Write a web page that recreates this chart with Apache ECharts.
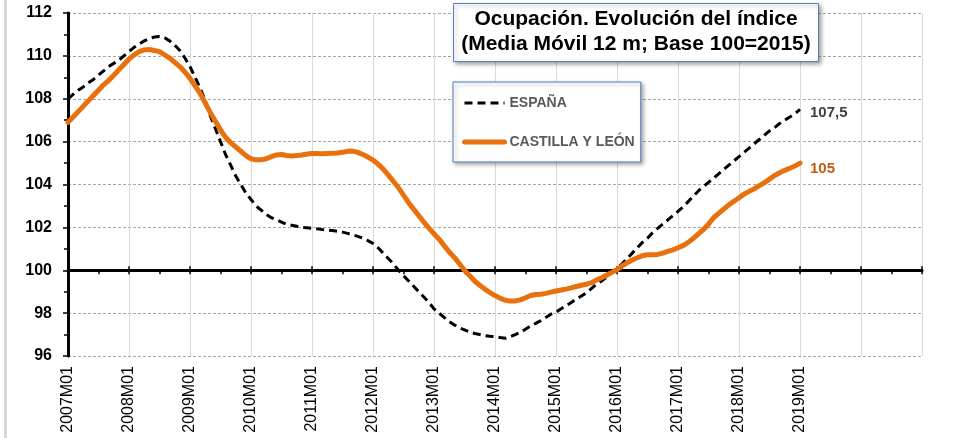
<!DOCTYPE html>
<html><head><meta charset="utf-8">
<script src="https://cdn.jsdelivr.net/npm/echarts@6/dist/echarts.min.js"></script>
<style>html,body{margin:0;padding:0;background:#fff}#c{width:976px;height:438px}</style>
</head><body><div id="c"></div>
<script>
// ---- data ----
const axisYears = [2007,2008,2009,2010,2011,2012,2013,2014,2015,2016,2017,2018,2019,2020];
const lastCategory = '2021M01';
const lastLabeledIndex = 144; // 2019M01
const yMin = 96, yMax = 112, yStep = 2, baseLine = 100;
const seriesNames = ['ESPAÑA', 'CASTILLA Y LEÓN'];
const espana = [
108.0,108.2,108.4,108.55,108.75,108.9,109.1,109.3,109.5,109.65,109.8,110.0,
110.2,110.4,110.55,110.7,110.8,110.88,110.9,110.85,110.7,110.5,110.25,109.9,
109.5,109.0,108.5,107.9,107.2,106.6,106.0,105.4,104.9,104.4,104.0,103.6,
103.3,103.0,102.8,102.6,102.45,102.35,102.25,102.15,102.1,102.05,102.0,101.98,
101.95,101.93,101.9,101.88,101.85,101.82,101.78,101.72,101.65,101.58,101.5,101.38,
101.25,101.05,100.8,100.55,100.3,100.0,99.75,99.5,99.25,99.0,98.75,98.5,
98.2,98.0,97.8,97.6,97.45,97.32,97.22,97.12,97.05,97.0,96.95,96.92,
96.9,96.86,96.83,96.9,97.0,97.1,97.25,97.4,97.52,97.65,97.8,97.95,
98.05,98.2,98.35,98.5,98.65,98.8,98.95,99.15,99.35,99.5,99.7,99.9,
100.1,100.3,100.55,100.8,101.05,101.3,101.5,101.75,101.95,102.15,102.35,102.55,
102.75,102.95,103.2,103.45,103.7,103.9,104.1,104.3,104.5,104.7,104.9,105.1,
105.3,105.5,105.7,105.9,106.1,106.3,106.5,106.65,106.85,107.0,107.15,107.3,
107.5
];
const cyl = [
106.9,107.15,107.4,107.65,107.9,108.15,108.4,108.65,108.85,109.1,109.35,109.6,
109.85,110.05,110.2,110.28,110.3,110.25,110.2,110.05,109.9,109.7,109.5,109.25,
108.95,108.6,108.25,107.8,107.35,106.95,106.55,106.2,105.95,105.75,105.55,105.35,
105.2,105.15,105.15,105.2,105.3,105.38,105.4,105.35,105.33,105.35,105.38,105.42,
105.45,105.45,105.44,105.45,105.46,105.47,105.5,105.55,105.56,105.5,105.4,105.28,
105.14,104.95,104.72,104.45,104.15,103.85,103.5,103.15,102.85,102.55,102.25,101.97,
101.7,101.45,101.15,100.85,100.6,100.3,100.0,99.75,99.5,99.3,99.12,98.96,
98.82,98.7,98.6,98.56,98.57,98.62,98.72,98.82,98.87,98.88,98.92,98.98,
99.03,99.08,99.12,99.18,99.24,99.3,99.35,99.42,99.55,99.65,99.78,99.9,
100.02,100.2,100.35,100.48,100.58,100.68,100.72,100.72,100.74,100.8,100.88,100.95,
101.05,101.15,101.3,101.48,101.7,101.9,102.15,102.45,102.65,102.85,103.05,103.22,
103.38,103.55,103.68,103.8,103.95,104.08,104.25,104.42,104.55,104.66,104.76,104.86,
105.0
];
const titleText = 'Ocupación. Evolución del índice\n(Media Móvil 12 m; Base 100=2015)';

// ---- build ----
const categories = [];
axisYears.forEach(y => { for (let m = 1; m <= 12; m++) categories.push(y + 'M' + (m < 10 ? '0' + m : m)); });
categories.push(lastCategory);

const FONT = 'Liberation Sans';
const grid = {left: 68, right: 54, top: 13, bottom: 82};
const gridH = 438 - grid.top - grid.bottom;
const baseOffset = -(baseLine - yMin) / (yMax - yMin) * gridH;
const fmt = v => Number(v.toFixed(1)).toString().replace('.', ',');
const hiddenSymbol = {color: 'rgba(0,0,0,0)', opacity: 0, borderWidth: 0};

const chart = echarts.init(document.getElementById('c'), null, {renderer: 'canvas'});
chart.setOption({
  animation: false,
  backgroundColor: '#fff',
  grid: grid,
  graphic: [{type: 'rect', left: 4, top: 0, silent: true, shape: {width: 3, height: 438}, style: {fill: '#d6d6d6'}}],
  title: {
    text: titleText, left: 628, top: 3, textAlign: 'center',
    padding: [4, 8, 5, 8],
    backgroundColor: '#fff', borderColor: '#4f81bd', borderWidth: 1,
    shadowBlur: 4, shadowColor: 'rgba(0,0,0,0.35)', shadowOffsetX: 2, shadowOffsetY: 2,
    textStyle: {fontFamily: FONT, fontSize: 21, fontWeight: 'bold', color: '#000', lineHeight: 25}
  },
  legend: {
    orient: 'vertical', left: 453, top: 82,
    itemWidth: 40, itemHeight: 14, itemGap: 25,
    padding: [14, 6, 13, 9],
    backgroundColor: '#fff', borderColor: '#4f81bd', borderWidth: 1,
    shadowBlur: 4, shadowColor: 'rgba(0,0,0,0.35)', shadowOffsetX: 2, shadowOffsetY: 2,
    textStyle: {fontFamily: FONT, fontSize: 14, fontWeight: 'bold', color: '#595959'},
    data: [
      {name: seriesNames[0], itemStyle: hiddenSymbol, lineStyle: {width: 3, type: [8, 5], color: '#000'}},
      {name: seriesNames[1], itemStyle: hiddenSymbol, lineStyle: {width: 5, color: '#e8710e', cap: 'round'}}
    ]
  },
  xAxis: [
    {
      type: 'category', data: categories, boundaryGap: false, position: 'bottom',
      axisLine: {show: false}, axisTick: {show: false},
      axisLabel: {
        rotate: 90, margin: 10, fontFamily: FONT, fontSize: 16, color: '#000',
        interval: (i) => i % 12 === 0 && i <= lastLabeledIndex
      },
      splitLine: {show: true, interval: (i) => i % 12 === 0, lineStyle: {color: '#d9d9d9', width: 1}}
    },
    {
      type: 'category', data: categories, boundaryGap: false, position: 'bottom', offset: baseOffset,
      axisLine: {show: true, lineStyle: {color: '#000', width: 3}},
      axisTick: {show: true, length: 4, interval: (i) => i % 6 === 0, lineStyle: {color: '#000', width: 1.5}},
      axisLabel: {show: false}, splitLine: {show: false}
    },
    {
      type: 'category', data: categories, boundaryGap: false, position: 'bottom', offset: baseOffset,
      axisLine: {show: false},
      axisTick: {show: true, inside: true, length: 4, interval: (i) => i % 12 === 0, lineStyle: {color: '#000', width: 1.5}},
      axisLabel: {show: false}, splitLine: {show: false}
    }
  ],
  yAxis: {
    type: 'value', min: yMin, max: yMax, interval: yStep,
    axisLine: {show: true, lineStyle: {color: '#000', width: 3}},
    axisTick: {show: true, length: 5, lineStyle: {color: '#000', width: 1.5}},
    minorTick: {show: true, splitNumber: 2, length: 4, lineStyle: {color: '#000', width: 1.5}},
    axisLabel: {margin: 16, fontFamily: FONT, fontSize: 16, fontWeight: 'bold', color: '#000'},
    splitLine: {show: true, lineStyle: {color: '#a6a6a6', width: 1, type: [3, 2]}}
  },
  series: [
    {
      name: seriesNames[0], type: 'line', data: espana, symbol: 'none', showSymbol: false, z: 3,
      lineStyle: {color: '#000', width: 3, type: [8, 5]},
      itemStyle: {color: '#000'},
      endLabel: {show: true, distance: 10, offset: [0, 3], formatter: p => fmt(p.value),
        fontFamily: FONT, fontSize: 15, fontWeight: 'bold', color: '#404040'}
    },
    {
      name: seriesNames[1], type: 'line', data: cyl, symbol: 'none', showSymbol: false, z: 4,
      lineStyle: {color: '#e8710e', width: 5, cap: 'round', join: 'round'},
      itemStyle: {color: '#e8710e'},
      endLabel: {show: true, distance: 10, offset: [0, 6], formatter: p => fmt(p.value),
        fontFamily: FONT, fontSize: 15, fontWeight: 'bold', color: '#c55a11'}
    }
  ]
});
</script></body></html>
